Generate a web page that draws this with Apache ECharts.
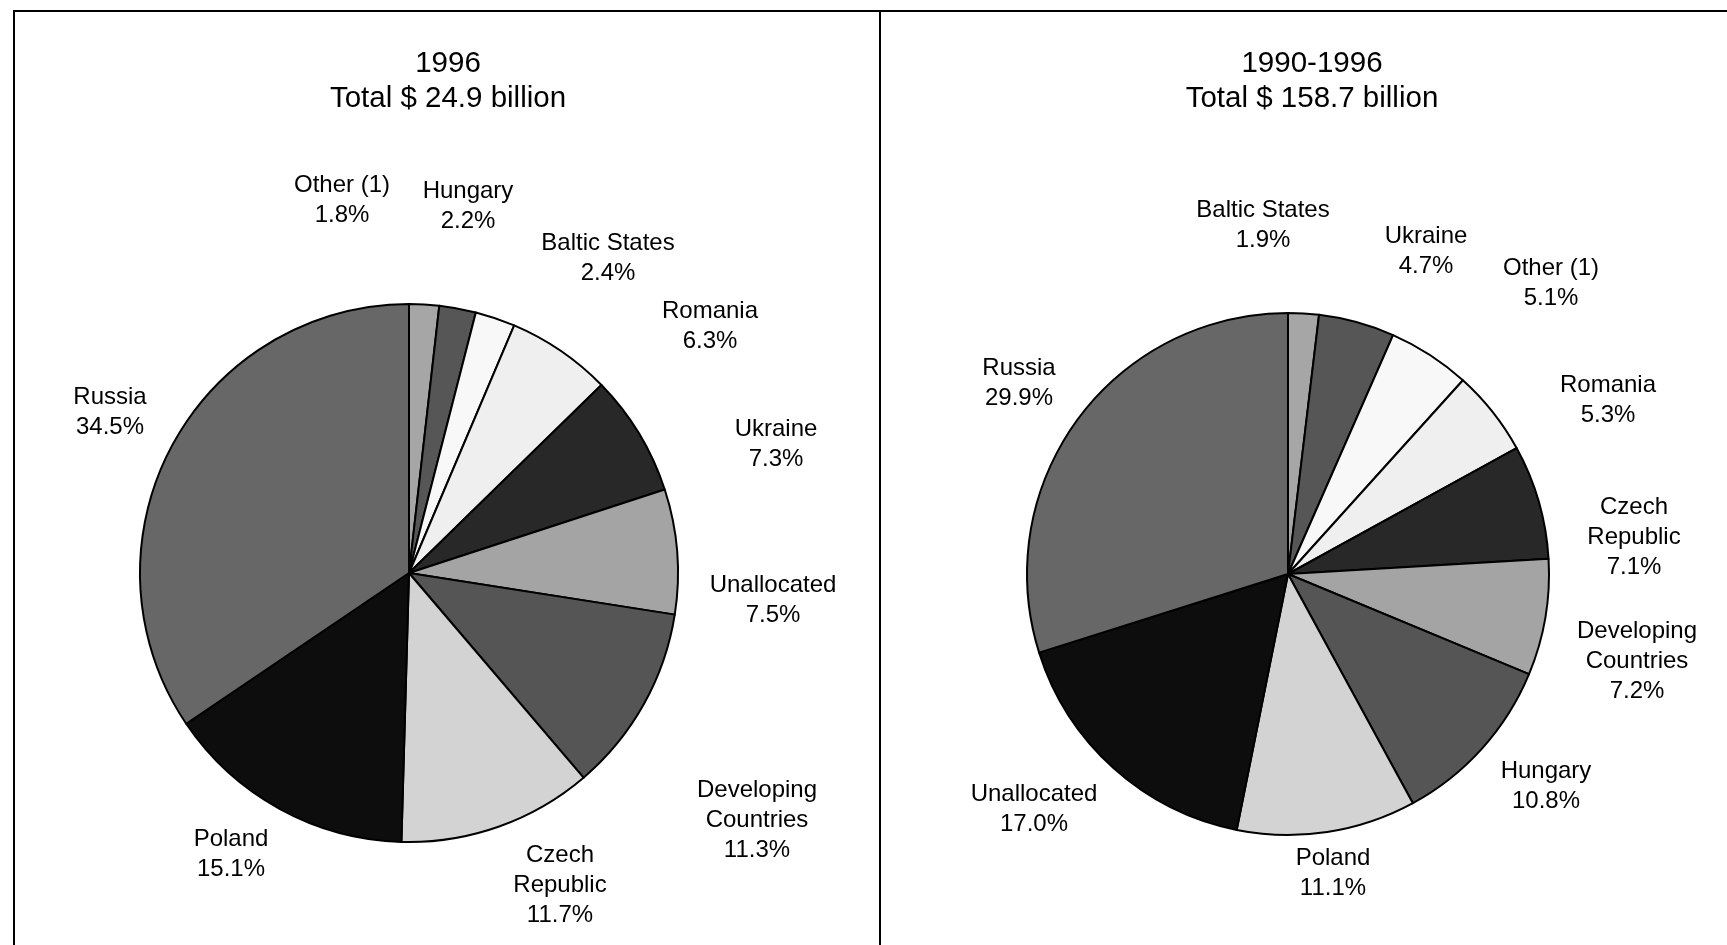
<!DOCTYPE html>
<html>
<head>
<meta charset="utf-8">
<title>Pie charts 1996 / 1990-1996</title>
<script src="https://cdn.jsdelivr.net/npm/echarts@6/dist/echarts.min.js"></script>
<style>
  html, body { margin: 0; padding: 0; background: #fff; }
  #my-chart { width: 1727px; height: 945px; }
</style>
</head>
<body>
<div id="my-chart"></div>
<script>
// 1996, clockwise from 12 o'clock
const names1996 = ["Other (1)", "Hungary", "Baltic States", "Romania", "Ukraine",
  "Unallocated", "Developing Countries", "Czech Republic", "Poland", "Russia"];
const values1996 = [1.8, 2.2, 2.4, 6.3, 7.3, 7.5, 11.3, 11.7, 15.1, 34.5];

// 1990-1996, clockwise from 12 o'clock
const namesCum = ["Baltic States", "Ukraine", "Other (1)", "Romania", "Czech Republic",
  "Developing Countries", "Hungary", "Poland", "Unallocated", "Russia"];
const valuesCum = [1.9, 4.7, 5.1, 5.3, 7.1, 7.2, 10.8, 11.1, 17.0, 29.9];

const titles = ["1996\nTotal $ 24.9 billion", "1990-1996\nTotal $ 158.7 billion"];

// slice shades, by position
const shades = ["#a6a6a6", "#565656", "#f8f8f8", "#efefef", "#282828",
  "#a4a4a4", "#555555", "#d3d3d3", "#0d0d0d", "#676767"];

// label anchors (text centre), px
const labelPos = [
  [[342, 200], [468, 206], [608, 258], [710, 326], [776, 444],
   [773, 600], [757, 820], [560, 885], [231, 854], [110, 412]],
  [[1263, 225], [1426, 251], [1551, 283], [1608, 400], [1634, 537],
   [1637, 661], [1546, 786], [1333, 873], [1034, 809], [1019, 383]]
];

const wrapNames = ["Czech Republic", "Developing Countries"];
const font = "'Liberation Sans', Arial, sans-serif";

function makeSeries(names, values, center, radius) {
  return {
    type: "pie",
    center: center,
    radius: radius,
    startAngle: 90,
    clockwise: true,
    avoidLabelOverlap: false,
    animation: false,
    silent: true,
    itemStyle: { borderColor: "#000", borderWidth: 2 },
    label: {
      show: true,
      position: "outside",
      color: "#000",
      fontFamily: font,
      fontSize: 24,
      lineHeight: 30,
      formatter: (p) => {
        const n = wrapNames.includes(p.name) ? p.name.replace(" ", "\n") : p.name;
        return n + "\n" + p.value.toFixed(1) + "%";
      },
    },
    labelLine: { show: false },
    emphasis: { disabled: true },
    data: names.map((n, i) => ({ name: n, value: values[i], itemStyle: { color: shades[i] } })),
  };
}

const myChart = echarts.init(document.getElementById("my-chart"));
const titleStyle = { fontFamily: font, fontSize: 29.5, fontWeight: "normal", color: "#000", lineHeight: 35 };
const option = {
  backgroundColor: "#fff",
  animation: false,
  title: [
    { text: titles[0], left: 448, top: 46, textAlign: "center", padding: 0, textStyle: titleStyle },
    { text: titles[1], left: 1312, top: 46, textAlign: "center", padding: 0, textStyle: titleStyle },
  ],
  graphic: [
    { type: "rect", shape: { x: 13, y: 10, width: 1714, height: 2 }, style: { fill: "#000" } },
    { type: "rect", shape: { x: 13, y: 10, width: 2, height: 935 }, style: { fill: "#000" } },
    { type: "rect", shape: { x: 879, y: 10, width: 2, height: 935 }, style: { fill: "#000" } },
  ],
  series: [
    makeSeries(names1996, values1996, [409, 573], 269),
    makeSeries(namesCum, valuesCum, [1288, 574], 261),
  ],
};
option.series.forEach((s, si) => {
  s.labelLayout = (params) => {
    const p = labelPos[si][params.dataIndex];
    return { x: p[0], y: p[1], align: "center", verticalAlign: "middle" };
  };
});
myChart.setOption(option);
</script>
</body>
</html>
